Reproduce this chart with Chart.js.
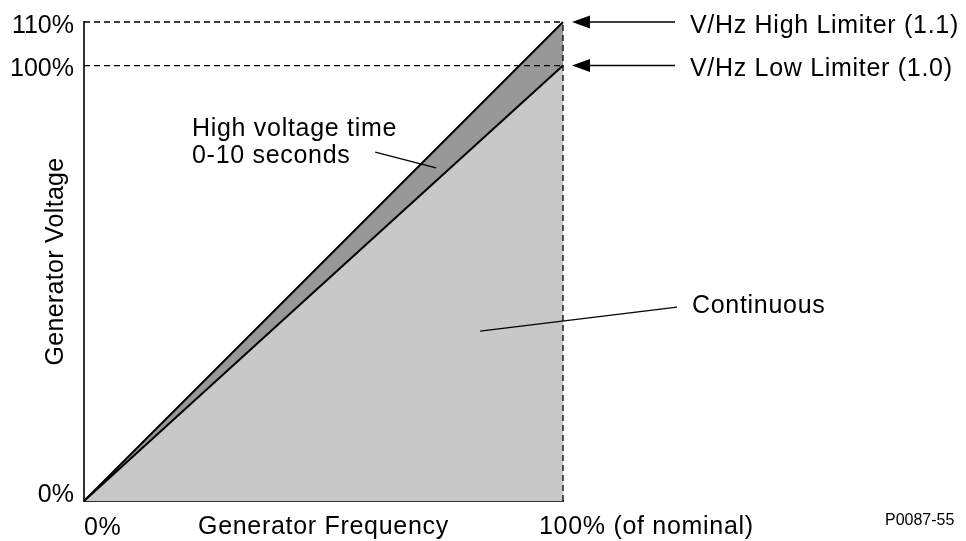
<!DOCTYPE html>
<html>
<head>
<meta charset="utf-8">
<script src="https://cdn.jsdelivr.net/npm/chart.js@4.4.1/dist/chart.umd.min.js"></script>
<style>
  html, body { margin: 0; padding: 0; background: #fff; }
  #wrap { width: 966px; height: 541px; position: relative; }
</style>
</head>
<body>
<div id="wrap"><canvas id="vhz"></canvas></div>
<script>
// generator frequency (% of nominal) and the two V/Hz limiter curves (% voltage)
const freqPoints   = [0, 100];
const highLimiter  = [0, 110];   // V/Hz High Limiter (1.1)
const lowLimiter   = [0, 100];   // V/Hz Low Limiter (1.0)

const yTickValues  = [0, 100, 110];
const yTickLabels  = ['0%', '100%', '110%'];
const xTickValues  = [0, 100];
const xTickLabels  = ['0%', '100% (of nominal)'];

const limiterLabels = ['V/Hz High Limiter (1.1)', 'V/Hz Low Limiter (1.0)'];

const FONT = "'Liberation Sans', Arial, Helvetica, sans-serif";

const toXY = (xs, ys) => xs.map((x, i) => ({ x, y: ys[i] }));
const xMax = freqPoints[freqPoints.length - 1];
const yMax = highLimiter[highLimiter.length - 1];

const dashed = {
  borderColor: '#000',
  borderWidth: 1.3,
  borderDash: [6, 4],
  pointRadius: 0,
  fill: false,
  clip: false
};

// text, arrows and leader lines
const notes = {
  id: 'notes',
  afterDraw(chart) {
    const { ctx, chartArea: a, scales: { x, y } } = chart;
    ctx.save();
    ctx.fillStyle = '#000';
    ctx.strokeStyle = '#000';
    ctx.textBaseline = 'alphabetic';
    ctx.font = `25px ${FONT}`;

    // y tick labels
    ctx.textAlign = 'right';
    yTickValues.forEach((v, i) => {
      const py = y.getPixelForValue(v);
      ctx.fillText(yTickLabels[i], a.left - 10, v === 0 ? py + 1 : py + 10.5);
    });

    ctx.letterSpacing = '0.7px';

    // x tick labels
    ctx.textAlign = 'left';
    ctx.fillText(xTickLabels[0], x.getPixelForValue(xTickValues[0]), a.bottom + 34);
    ctx.fillText(xTickLabels[1], x.getPixelForValue(xTickValues[1]) - 24, a.bottom + 33);

    // axis titles
    ctx.fillText('Generator Frequency', 198, a.bottom + 33);
    ctx.save();
    ctx.letterSpacing = '0.3px';
    ctx.translate(63, (a.top + a.bottom) / 2);
    ctx.rotate(-Math.PI / 2);
    ctx.textAlign = 'center';
    ctx.fillText('Generator Voltage', 0, 0);
    ctx.restore();

    // limiter arrows + labels
    const tipX = x.getPixelForValue(xMax) + 9;
    [yMax, lowLimiter[lowLimiter.length - 1]].forEach((v, i) => {
      const py = y.getPixelForValue(v);
      ctx.lineWidth = 1.5;
      ctx.beginPath();
      ctx.moveTo(tipX + 16, py);
      ctx.lineTo(675, py);
      ctx.stroke();
      ctx.beginPath();
      ctx.moveTo(tipX, py);
      ctx.lineTo(tipX + 18, py - 6.5);
      ctx.lineTo(tipX + 18, py + 6.5);
      ctx.closePath();
      ctx.fill();
      ctx.fillText(limiterLabels[i], 690, py + 10.5);
    });

    // region labels with leader lines (anchored in data coordinates)
    const px = v => x.getPixelForValue(v);
    const py = v => y.getPixelForValue(v);
    ctx.lineWidth = 1.3;
    ctx.beginPath();
    ctx.moveTo(px(60.8), py(80.1));
    ctx.lineTo(px(73.5), py(76.5));
    ctx.moveTo(px(82.7), py(39.0));
    ctx.lineTo(px(123.8), py(44.5));
    ctx.stroke();

    ctx.fillText('High voltage time', 192, 136);
    ctx.fillText('0-10 seconds', 192, 163);
    ctx.fillText('Continuous', 692, 312.5);

    ctx.letterSpacing = '0px';
    ctx.font = `16px ${FONT}`;
    ctx.fillText('P0087-55', 885, 525);
    ctx.restore();
  }
};

new Chart(document.getElementById('vhz'), {
  type: 'line',
  data: {
    datasets: [
      // dashed guides drawn on top
      { ...dashed, data: toXY([0, xMax], [yMax, yMax]) },
      { ...dashed, data: toXY([0, xMax], [lowLimiter[1], lowLimiter[1]]) },
      { ...dashed, data: toXY([xMax, xMax], [0, yMax]) },
      {
        label: 'High voltage time 0-10 seconds',
        data: toXY(freqPoints, highLimiter),
        borderColor: '#000',
        borderWidth: 2,
        pointRadius: 0,
        backgroundColor: '#989898',
        fill: '+1',
        clip: false
      },
      {
        label: 'Continuous',
        data: toXY(freqPoints, lowLimiter),
        borderColor: '#000',
        borderWidth: 2,
        pointRadius: 0,
        backgroundColor: '#c8c8c8',
        fill: 'origin',
        clip: false
      }
    ]
  },
  options: {
    responsive: true,
    maintainAspectRatio: false,
    animation: false,
    layout: { padding: { left: 84, right: 403, top: 22, bottom: 40 } },
    plugins: {
      legend: { display: false },
      tooltip: { enabled: false },
      filler: { drawTime: 'beforeDatasetsDraw' }
    },
    scales: {
      x: {
        type: 'linear', min: 0, max: xMax,
        ticks: { display: false },
        grid: { display: false },
        border: { display: true, color: '#333', width: 2 },
        afterFit: s => { s.height = 0; }
      },
      y: {
        type: 'linear', min: 0, max: yMax,
        ticks: { display: false },
        grid: { display: false },
        border: { display: true, color: '#333', width: 2 },
        afterFit: s => { s.width = 0; }
      }
    }
  },
  plugins: [notes]
});
</script>
</body>
</html>
